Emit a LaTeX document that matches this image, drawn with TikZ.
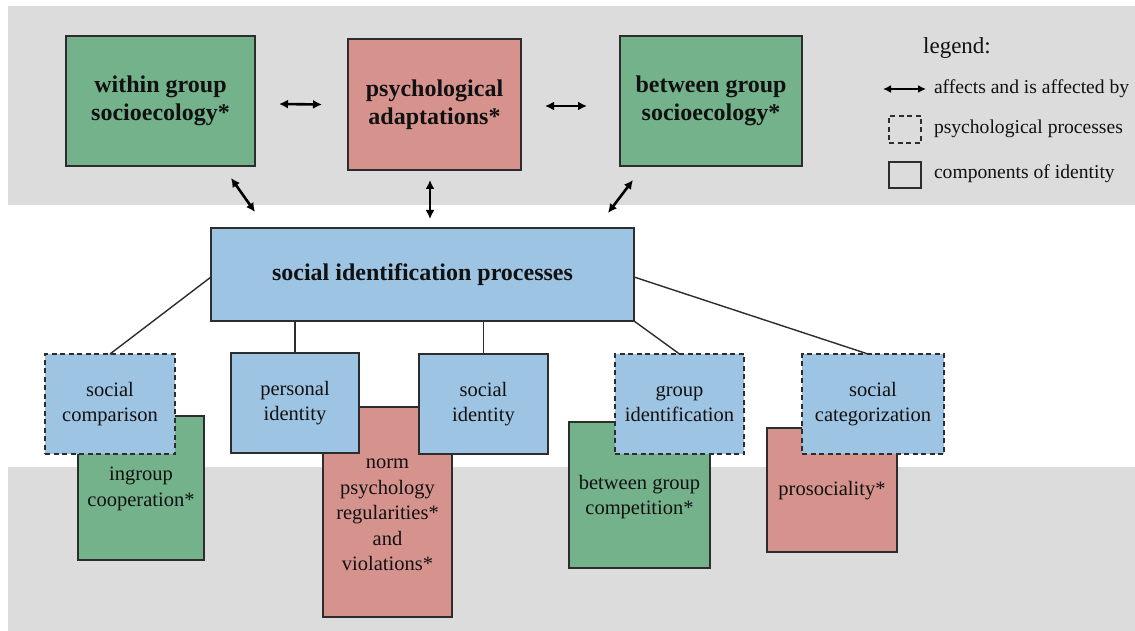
\documentclass[tikz,border=0pt]{standalone}
\usepackage{fontspec}
\setmainfont{Liberation Serif}
\usetikzlibrary{arrows.meta}
\definecolor{bandgray}{RGB}{220,220,220}
\definecolor{boxgreen}{RGB}{116,178,140}
\definecolor{boxpink}{RGB}{214,147,142}
\definecolor{boxblue}{RGB}{158,196,227}
\definecolor{edgegray}{RGB}{45,45,45}
\definecolor{inkblack}{RGB}{17,17,17}
\begin{document}
\begin{tikzpicture}[x=1pt,y=-1pt,
  every node/.style={inner sep=0pt, outer sep=0pt},
  box/.style={draw=edgegray, line width=1.3pt},
  dashbox/.style={box, dash pattern=on 5pt off 3.5pt},
  bigtxt/.style={font=\fontsize{24}{28}\selectfont\bfseries, align=center, text=inkblack},
  txt/.style={font=\fontsize{20.5}{25.5}\selectfont, align=center, text=inkblack},
  legtxt/.style={font=\fontsize{19.6}{24}\selectfont, text=inkblack, anchor=west},
  biarrow/.style={{Latex[length=9pt,width=9pt]}-{Latex[length=9pt,width=9pt]}, line width=2.6pt, draw=black},
  link/.style={draw=edgegray, line width=1.4pt},
]
\useasboundingbox (0,0) rectangle (1135,631);
\fill[white] (0,0) rectangle (1135,631);
\fill[bandgray] (8,6) rectangle (1135,205);
\fill[bandgray] (8,467) rectangle (1135,631);

% top row
\node[box, fill=boxgreen, minimum width=189pt, minimum height=130pt, bigtxt] (wg) at (160.5,101) {within group\\socioecology*};
\node[box, fill=boxpink, minimum width=173pt, minimum height=131pt, bigtxt] (pa) at (434.5,104.5) {psychological\\adaptations*};
\node[box, fill=boxgreen, minimum width=182pt, minimum height=130pt, bigtxt] (bg) at (711,101) {between group\\socioecology*};

% central
\node[box, fill=boxblue, minimum width=423pt, minimum height=93pt, bigtxt] (ce) at (422.5,274.5) {social identification processes};

% arrows
\draw[biarrow] ([xshift=24pt,yshift=-3pt]wg.east) -- ([xshift=-26pt]pa.west);
\draw[biarrow] ([xshift=24pt,yshift=-1.5pt]pa.east) -- ([xshift=-33pt,yshift=-5pt]bg.west);
\draw[biarrow] ([xshift=70.5pt,yshift=-12pt]wg.south) -- ([xshift=-167.5pt,yshift=16pt]ce.north);
\draw[biarrow] ([xshift=-4.5pt,yshift=-10pt]pa.south) -- ([xshift=7.5pt,yshift=9pt]ce.north);
\draw[biarrow] ([xshift=-78pt,yshift=-14pt]bg.south) -- ([xshift=185.5pt,yshift=15pt]ce.north);

% lower background boxes
\node[box, fill=boxgreen, minimum width=126pt, minimum height=144pt] (ic) at (141,488) {};
\node[txt] (ict) at (141,489) {ingroup\\cooperation*};
\node[box, fill=boxpink, minimum width=129pt, minimum height=210pt] (np) at (387.5,512) {};
\node[txt] (npt) at (387.5,515) {norm\\psychology\\regularities*\\and\\violations*};
\node[box, fill=boxgreen, minimum width=141pt, minimum height=146pt] (bgc) at (639.5,495) {};
\node[txt] (bgct) at (639.5,497) {between group\\competition*};
\node[box, fill=boxpink, minimum width=130pt, minimum height=124pt] (pro) at (832,490) {};
\node[txt] (prot) at (832,491) {prosociality*};

% blue boxes
\node[dashbox, fill=boxblue, minimum width=130pt, minimum height=100pt, txt] (sc) at (110,404) {social\\comparison};
\node[box, fill=boxblue, minimum width=128pt, minimum height=100pt, txt] (pi) at (295,403) {personal\\identity};
\node[box, fill=boxblue, minimum width=129pt, minimum height=100pt, txt] (si) at (483.5,404) {social\\identity};
\node[dashbox, fill=boxblue, minimum width=129pt, minimum height=100pt, txt] (gi) at (679.5,404) {group\\identification};
\node[dashbox, fill=boxblue, minimum width=142pt, minimum height=100pt, txt] (sca) at (873,404) {social\\categorization};

% tree links
\draw[link] ([yshift=-2.5pt]ce.west) -- (sc.north);
\draw[link] (ce.south -| pi.north) -- (pi.north);
\draw[link] (ce.south -| si.north) -- (si.north);
\draw[link] (ce.south east) -- (gi.north);
\draw[link] ([yshift=-2.5pt]ce.east) -- ([xshift=-5pt]sca.north);

% legend
\node[font=\fontsize{23}{27}\selectfont, text=inkblack] (lg) at (957,48) {legend:};
\coordinate (la1) at (883,89);
\coordinate (la2) at (926,89);
\draw[biarrow, line width=2.3pt, {Latex[length=8pt,width=8pt]}-{Latex[length=8pt,width=8pt]}] (la1) -- (la2);
\node[legtxt] (lt1) at (934,89) {affects and is affected by};
\node[dashbox, line width=1.2pt, minimum width=32pt, minimum height=27pt] (ld) at (905,129.5) {};
\node[legtxt] (lt2) at (934,129) {psychological processes};
\node[box, line width=1.2pt, minimum width=32pt, minimum height=26pt] (ls) at (905,175) {};
\node[legtxt] (lt3) at (934,174) {components of identity};
\end{tikzpicture}
\end{document}
